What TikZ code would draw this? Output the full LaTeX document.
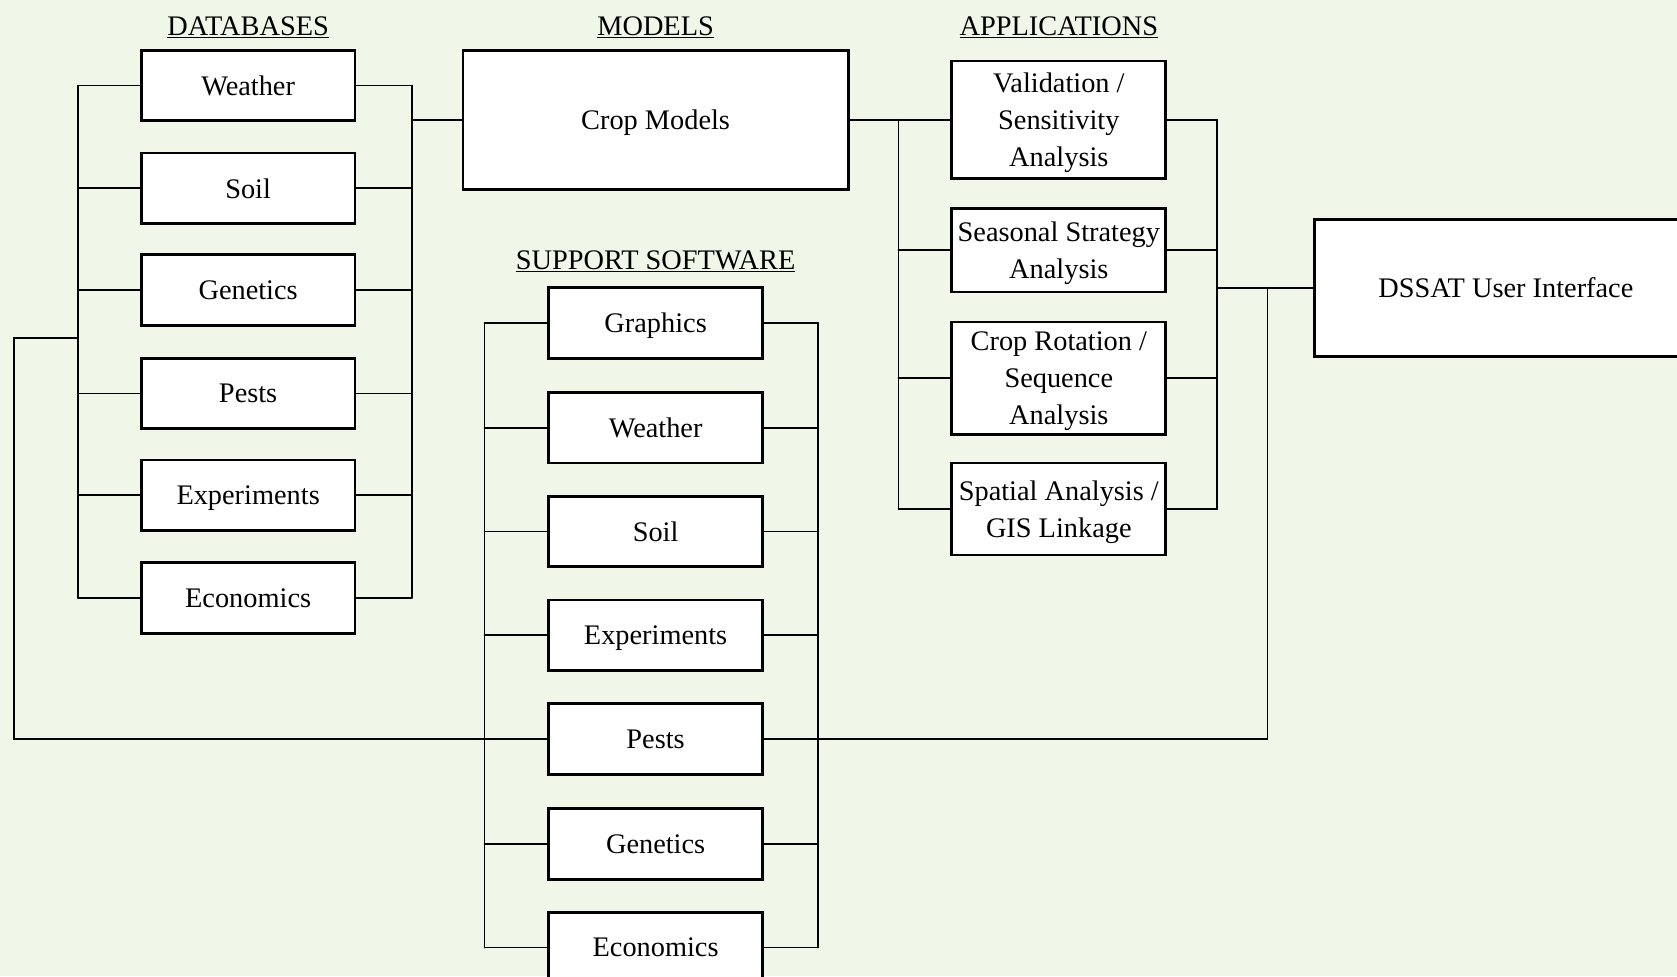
\documentclass[tikz,border=0pt]{standalone}
\usepackage{fontspec}
\setmainfont{Liberation Serif}
\usepackage{tikz}
\usetikzlibrary{calc}
\definecolor{paper}{RGB}{240,246,232}

\begin{document}
\begin{tikzpicture}[x=1pt, y=-1pt, line cap=round,
	box/.style={draw=black, fill=white, line width=2.6pt, minimum width=200pt, minimum height=66pt,
		inner sep=0pt, text depth=0pt, align=center, font=\fontsize{26.5}{34.5}\selectfont},
	conn/.style={black, line width=1.6pt},
	header/.style={anchor=base, inner sep=0pt, font=\fontsize{26.5}{34.5}\selectfont}]

	\path[use as bounding box, fill=paper] (0,0) rectangle (1568,913);
	\clip (0,0) rectangle (1568,913);

	% bus lines
	\coordinate (DbL) at (73,0);
	\coordinate (DbR) at (385,0);
	\coordinate (SwL) at (453,0);
	\coordinate (SwR) at (765,0);
	\coordinate (ApL) at (840,0);
	\coordinate (ApR) at (1138,0);
	\coordinate (OutL) at (13,0);
	\coordinate (DbTap) at (73,316);
	\coordinate (DsTap) at (1185,269);

	\node[header] (hDb) at (232,33) {\underline{DATABASES}};
	\node[header] (hMod) at (613,33) {\underline{MODELS}};
	\node[header] (hApp) at (990,33) {\underline{APPLICATIONS}};
	\node[header] (hSw) at (613,252) {\underline{SUPPORT SOFTWARE}};

	% databases
	\draw[conn] (DbL |- 0,80) -- (DbL |- 0,559);
	\draw[conn] (DbR |- 0,80) -- (DbR |- 0,559);
	\node[box] (DbWea) at (232,80) {Weather};
	\node[box] (DbSoil) at (232,176) {Soil};
	\node[box] (DbGen) at (232,271) {Genetics};
	\node[box] (DbPest) at (232,368) {Pests};
	\node[box] (DbExp) at (232,463) {Experiments};
	\node[box] (DbEco) at (232,559) {Economics};
	\draw[conn] (DbWea.west) -- (DbWea.west -| DbL) (DbWea.east) -- (DbWea.east -| DbR);
	\draw[conn] (DbSoil.west) -- (DbSoil.west -| DbL) (DbSoil.east) -- (DbSoil.east -| DbR);
	\draw[conn] (DbGen.west) -- (DbGen.west -| DbL) (DbGen.east) -- (DbGen.east -| DbR);
	\draw[conn] (DbPest.west) -- (DbPest.west -| DbL) (DbPest.east) -- (DbPest.east -| DbR);
	\draw[conn] (DbExp.west) -- (DbExp.west -| DbL) (DbExp.east) -- (DbExp.east -| DbR);
	\draw[conn] (DbEco.west) -- (DbEco.west -| DbL) (DbEco.east) -- (DbEco.east -| DbR);

	% models
	\node[box, minimum width=360pt, minimum height=130pt] (Crop) at (613,112) {Crop Models};
	\draw[conn] (Crop.west) -- (Crop.west -| DbR);

	% support software
	\draw[conn] (SwL |- 0,302) -- (SwL |- 0,886);
	\draw[conn] (SwR |- 0,302) -- (SwR |- 0,886);
	\node[box] (SwGra) at (613,302) {Graphics};
	\node[box] (SwWea) at (613,400) {Weather};
	\node[box] (SwSoil) at (613,497) {Soil};
	\node[box] (SwExp) at (613,594) {Experiments};
	\node[box] (SwPest) at (613,691) {Pests};
	\node[box] (SwGen) at (613,789) {Genetics};
	\node[box] (SwEco) at (613,886) {Economics};
	\draw[conn] (SwGra.west) -- (SwGra.west -| SwL) (SwGra.east) -- (SwGra.east -| SwR);
	\draw[conn] (SwWea.west) -- (SwWea.west -| SwL) (SwWea.east) -- (SwWea.east -| SwR);
	\draw[conn] (SwSoil.west) -- (SwSoil.west -| SwL) (SwSoil.east) -- (SwSoil.east -| SwR);
	\draw[conn] (SwExp.west) -- (SwExp.west -| SwL) (SwExp.east) -- (SwExp.east -| SwR);
	\draw[conn] (SwGen.west) -- (SwGen.west -| SwL) (SwGen.east) -- (SwGen.east -| SwR);
	\draw[conn] (SwEco.west) -- (SwEco.west -| SwL) (SwEco.east) -- (SwEco.east -| SwR);

	% applications
	\node[box, minimum height=110pt] (ApVal) at (990,112) {Validation /\\ Sensitivity\\ Analysis};
	\node[box, minimum height=78pt] (ApSea) at (990,234) {Seasonal Strategy\\ Analysis};
	\node[box, minimum height=105pt] (ApRot) at (990,353.5) {Crop Rotation /\\ Sequence\\ Analysis};
	\node[box, minimum height=86pt] (ApSpa) at (990,476) {Spatial Analysis /\\ GIS Linkage};
	\draw[conn] (ApVal.west -| ApL) -- (ApSpa.west -| ApL);
	\draw[conn] (ApVal.east -| ApR) -- (ApSpa.east -| ApR);
	\draw[conn] (Crop.east) -- (ApVal.west);
	\draw[conn] (ApSea.west) -- (ApSea.west -| ApL);
	\draw[conn] (ApRot.west) -- (ApRot.west -| ApL);
	\draw[conn] (ApSpa.west) -- (ApSpa.west -| ApL);
	\draw[conn] (ApVal.east) -- (ApVal.east -| ApR);
	\draw[conn] (ApSea.east) -- (ApSea.east -| ApR);
	\draw[conn] (ApRot.east) -- (ApRot.east -| ApR);
	\draw[conn] (ApSpa.east) -- (ApSpa.east -| ApR);

	% user interface
	\node[box, minimum width=358pt, minimum height=128pt] (Dssat) at (1408,269) {DSSAT User Interface};
	\draw[conn] (Dssat.west) -- (Dssat.west -| ApR);

	% long link through the pests boxes
	\draw[conn] (DbTap) -- (DbTap -| OutL) |- (SwPest.west);
	\draw[conn] (SwPest.east) -| (DsTap);

\end{tikzpicture}
\end{document}
